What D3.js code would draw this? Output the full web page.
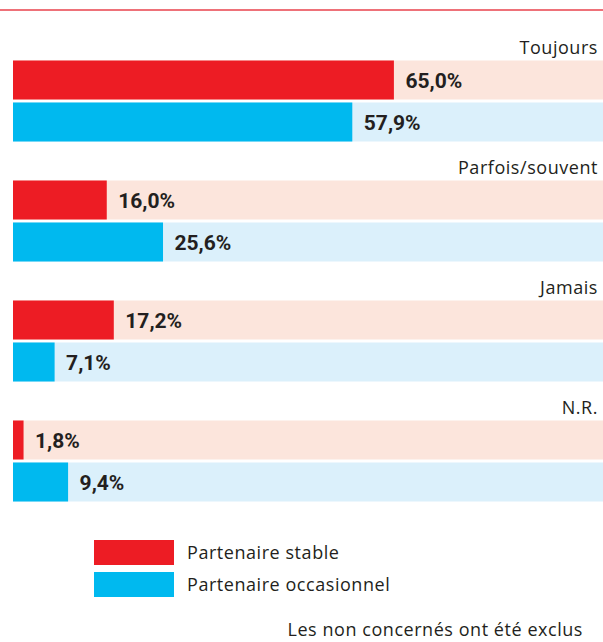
<!DOCTYPE html>
<html>
<head>
<meta charset="utf-8">
<script src="https://cdn.jsdelivr.net/npm/d3@7"></script>
<style>
  body { margin: 0; background: #fff; }
  text { font-family: "Open Sans", "Noto Sans", sans-serif; fill: #231f20; }
  text.value { font-family: Roboto, "Open Sans", sans-serif; }
</style>
</head>
<body>
<div class="chart"></div>
<script>
var svgWidth = 603;
var svgHeight = 642;

// data
var categories = ["Toujours", "Parfois/souvent", "Jamais", "N.R."];
var stableValues = [65.0, 16.0, 17.2, 1.8];
var occasionalValues = [57.9, 25.6, 7.1, 9.4];
var seriesNames = ["Partenaire stable", "Partenaire occasionnel"];

var colors = ["#ed1c24", "#00b9ef"];
var lightColors = ["#fce5dc", "#dbf0fb"];

var svg = d3.select(".chart")
  .append("svg")
  .attr("width", svgWidth)
  .attr("height", svgHeight);

// thin red rule at the top
svg.append("line")
  .attr("x1", 0).attr("x2", svgWidth)
  .attr("y1", 10).attr("y2", 10)
  .attr("stroke", "#e8424c")
  .attr("stroke-width", 1.5);

var xScale = d3.scaleLinear()
  .domain([0, 100])
  .range([13, 599]);

// one band per category, each band holds two bars
var yScale = d3.scaleBand()
  .domain(categories)
  .range([20, 500])
  .paddingInner(0)
  .paddingOuter(0);

var barHeight = 39;
var barGap = 3;

var rows = [];
categories.forEach(function(c, i) {
  rows.push({ cat: c, s: 0, value: stableValues[i] });
  rows.push({ cat: c, s: 1, value: occasionalValues[i] });
});

function rowY(d) {
  return yScale(d.cat) + 40.5 + d.s * (barHeight + barGap);
}

// background tracks
svg.selectAll("rect.track")
  .data(rows)
  .enter()
  .append("rect")
  .attr("class", "track")
  .attr("x", xScale(0))
  .attr("y", rowY)
  .attr("width", svgWidth - xScale(0))
  .attr("height", barHeight)
  .attr("fill", d => lightColors[d.s]);

// bars
svg.selectAll("rect.bar")
  .data(rows)
  .enter()
  .append("rect")
  .attr("class", "bar")
  .attr("x", xScale(0))
  .attr("y", rowY)
  .attr("width", d => xScale(d.value) - xScale(0))
  .attr("height", barHeight)
  .attr("fill", d => colors[d.s]);

// value labels
svg.selectAll("text.value")
  .data(rows)
  .enter()
  .append("text")
  .attr("class", "value")
  .attr("x", d => xScale(d.value) + 11.5)
  .attr("y", d => rowY(d) + barHeight / 2 + 7.5)
  .attr("font-size", "21px")
  .attr("font-weight", "bold")
  .text(d => d.value.toFixed(1).replace(".", ",") + "%");

// category labels
svg.selectAll("text.cat")
  .data(categories)
  .enter()
  .append("text")
  .attr("class", "cat")
  .attr("x", 598)
  .attr("y", d => yScale(d) + 34)
  .attr("text-anchor", "end")
  .attr("font-size", "18px")
  .attr("letter-spacing", "0.55px")
  .text(d => d);

// legend
var legend = svg.selectAll("g.legend")
  .data(seriesNames)
  .enter()
  .append("g")
  .attr("class", "legend")
  .attr("transform", (d, i) => `translate(94, ${540 + i * 32})`);

legend.append("rect")
  .attr("width", 80)
  .attr("height", 25)
  .attr("fill", (d, i) => colors[i]);

legend.append("text")
  .attr("x", 93)
  .attr("y", 18.5)
  .attr("font-size", "18px")
  .attr("letter-spacing", "0.55px")
  .text(d => d);

svg.append("text")
  .attr("x", 583)
  .attr("y", 636)
  .attr("text-anchor", "end")
  .attr("font-size", "18px")
  .attr("letter-spacing", "0.55px")
  .text("Les non concernés ont été exclus");
</script>
</body>
</html>
